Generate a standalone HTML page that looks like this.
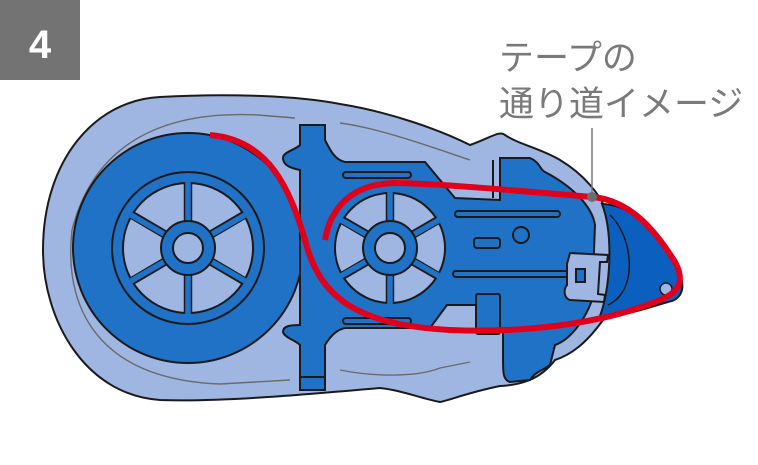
<!DOCTYPE html>
<html><head><meta charset="utf-8"><style>
html,body{margin:0;padding:0;background:#fff;}
svg{display:block;}
</style></head><body>
<svg width="758" height="465" viewBox="0 0 758 465" xmlns="http://www.w3.org/2000/svg">
<rect x="0" y="0" width="80" height="80" fill="#737373"/>
<text x="40" y="58" font-family="Liberation Sans, sans-serif" font-size="40" font-weight="bold" fill="#fff" text-anchor="middle">4</text>
<text x="499" y="70" font-family="'Liberation Sans','Noto Sans CJK JP',sans-serif" font-size="35" fill="#7a7a7a">テープの</text>
<text x="499" y="116" font-family="'Liberation Sans','Noto Sans CJK JP',sans-serif" font-size="35" fill="#7a7a7a">通り道イメージ</text>

<!-- outer body -->
<path d="M160,97 C230,93 300,96 340,104 C390,112 440,130 470,145 C490,138 500,130 505,135 C520,145 540,148 560,160 C585,175 600,195 606,210 C612,240 612,290 603,320 C585,345 570,355 555,360 C540,380 520,385 500,386 C470,392 450,400 440,402 C420,398 400,390 380,388 C300,395 220,402 160,400 C85,395 43,320 43,250 C43,160 95,100 160,97 Z" fill="#a0b6e2" stroke="#1a1a1a" stroke-width="2"/>
<!-- inner gray outline -->
<path d="M258,115 C200,112 100,120 72,230 C62,320 110,380 220,384 L290,380" fill="none" stroke="#6a6a6a" stroke-width="1.4"/>
<path d="M258,115 L295,118 M340,123 C380,128 440,150 470,160" fill="none" stroke="#6a6a6a" stroke-width="1.4"/>
<path d="M340,370 C380,378 420,376 440,368 L470,362" fill="none" stroke="#6a6a6a" stroke-width="1.4"/>

<!-- big reel -->
<circle cx="188" cy="248" r="115" fill="#1f72c6" stroke="#1a1a1a" stroke-width="2"/>
<circle cx="188" cy="248" r="76" fill="#1f72c6" stroke="#1a1a1a" stroke-width="2"/>
<circle cx="188" cy="248" r="65" fill="#a0b6e2" stroke="#1a1a1a" stroke-width="2"/>
<g stroke="#1a1a1a" stroke-width="8.5" stroke-linecap="butt">
<line x1="188" y1="183" x2="188" y2="313"/>
<line x1="132" y1="215" x2="244" y2="281"/>
<line x1="132" y1="281" x2="244" y2="215"/>
</g>
<g stroke="#1f72c6" stroke-width="5.5">
<line x1="188" y1="182" x2="188" y2="314"/>
<line x1="131" y1="215" x2="245" y2="281"/>
<line x1="131" y1="281" x2="245" y2="215"/>
</g>
<circle cx="188" cy="248" r="27" fill="#1f72c6" stroke="#1a1a1a" stroke-width="2"/>
<circle cx="188" cy="248" r="15" fill="#a0b6e2" stroke="#1a1a1a" stroke-width="2"/>

<!-- frame -->
<path d="M300,125 L325,125 L325,140 C330,150 335,160 345,162 L425,162 L455,198 L500,200 L500,158 L530,158 C540,162 540,170 545,172 C570,185 592,205 595,225 L592,300 C585,320 570,340 555,345 L550,365 C540,372 535,372 530,380 L510,382 C503,380 503,372 503,360 L503,330 L476,330 L476,305 L447,305 L430,328 L345,328 C335,330 328,340 325,345 L325,390 L300,390 L300,345 C295,340 285,338 283,332 C283,326 290,325 300,325 L300,170 C290,168 283,165 283,158 C283,152 295,150 300,145 Z" fill="#1f72c6" stroke="#1a1a1a" stroke-width="2"/>
<line x1="300" y1="377" x2="325" y2="377" stroke="#1a1a1a" stroke-width="2"/>
<rect x="476" y="294" width="24" height="40" rx="2" fill="#1f72c6" stroke="#1a1a1a" stroke-width="2"/>
<line x1="493" y1="160" x2="493" y2="198" stroke="#1a1a1a" stroke-width="2"/>
<!-- slots -->
<g fill="#1f72c6" stroke="#1a1a1a" stroke-width="2">
<rect x="343" y="172" width="68" height="6" rx="3"/>
<rect x="343" y="318" width="68" height="6" rx="3"/>
<rect x="455" y="211" width="105" height="6" rx="3"/>
<rect x="453" y="271" width="125" height="6" rx="3"/>
<rect x="474" y="238" width="26" height="10" rx="3"/>
<circle cx="521" cy="235" r="8"/>
</g>
<!-- small reel -->
<circle cx="390" cy="248" r="55" fill="#a0b6e2" stroke="#1a1a1a" stroke-width="2"/>
<g stroke="#1a1a1a" stroke-width="8.5">
<line x1="390" y1="193" x2="390" y2="303"/>
<line x1="342" y1="220" x2="438" y2="276"/>
<line x1="342" y1="276" x2="438" y2="220"/>
</g>
<g stroke="#1f72c6" stroke-width="5.5">
<line x1="390" y1="192" x2="390" y2="304"/>
<line x1="341" y1="220" x2="439" y2="276"/>
<line x1="341" y1="276" x2="439" y2="220"/>
</g>
<circle cx="390" cy="248" r="27" fill="#1f72c6" stroke="#1a1a1a" stroke-width="2"/>
<circle cx="390" cy="248" r="15" fill="#a0b6e2" stroke="#1a1a1a" stroke-width="2"/>
<!-- clip -->
<path d="M570,253 L608,255 L607,262 L600,262 L598,294 L605,295 L604,302 L570,300 C564,298 563,290 567,285 L567,264 Z" fill="#a0b6e2" stroke="#1a1a1a" stroke-width="2"/>
<rect x="576" y="269" width="9" height="13" fill="#1f72c6" stroke="#1a1a1a" stroke-width="2"/>
<!-- tip -->
<path d="M602,204 C640,205 665,245 680,275 C686,290 680,300 668,302 C640,310 618,318 600,316 C610,290 614,235 602,204 Z" fill="#0a5fbf" stroke="#1a1a1a" stroke-width="2"/>
<path d="M610,215 C632,235 640,290 608,305" fill="none" stroke="#1a1a1a" stroke-width="1.5"/>
<circle cx="666" cy="289" r="6" fill="#a0b6e2" stroke="#1a1a1a" stroke-width="1.5"/>
<!-- red tape path -->
<path d="M210,135 C270,140 290,190 305,240 C320,300 360,325 450,330 C520,333 600,325 660,300 C685,290 682,275 675,262 C655,230 630,200 592,197 C530,192 460,185 400,183 C350,182 330,210 325,240" fill="none" stroke="#e0001b" stroke-width="6"/>
<!-- leader -->
<line x1="592" y1="128" x2="592" y2="197" stroke="#7a7a7a" stroke-width="1.5"/>
<circle cx="592" cy="197" r="5" fill="#6d6d6d"/>
</svg>
</body></html>
